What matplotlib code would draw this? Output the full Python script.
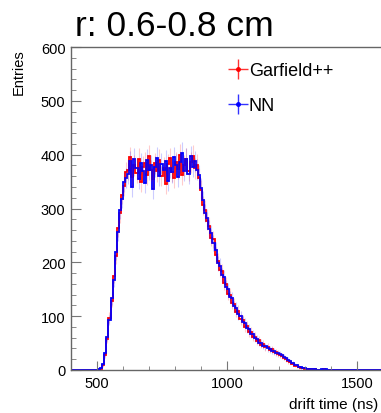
import matplotlib
matplotlib.use("Agg")
import matplotlib.pyplot as plt
import numpy as np
from matplotlib.lines import Line2D
from matplotlib.ticker import MultipleLocator

plt.rcParams['font.family'] = ['Liberation Sans', 'DejaVu Sans']

# ---- data (8 ns bins from 400 ns) ----
bin_start = 400
bin_width = 8
n_bins = 150

garfield_counts = ([0] * 14 +
    [2, 9, 27, 58, 97, 128, 174, 212, 263, 291, 326, 341, 368,
     372, 395, 358, 380, 366, 392, 350, 378, 385, 362, 398, 371, 355, 384, 369, 390, 360,
     376, 345, 382, 393, 368, 357, 386, 374, 399, 363, 380, 392, 370, 386, 398, 375, 381,
     356, 334, 306, 298, 276, 268, 246, 243, 214, 203, 186, 183, 162, 160, 142, 140, 125,
     122, 108, 110, 94, 93, 80, 82, 70, 71, 61, 62, 54, 55, 47, 48, 42, 43, 37, 39, 34, 33,
     30, 28, 26, 23, 20, 16, 14, 11, 8, 7, 5, 4, 3, 2, 2, 1, 1, 0, 1, 0, 0, 0, 1])
nn_counts = ([0] * 13 +
    [1, 3, 11, 31, 62, 93, 133, 168, 219, 256, 298, 318, 350, 357,
     365, 388, 340, 392, 375, 355, 384, 369, 347, 390, 372, 380, 336, 378, 394, 360, 383,
     371, 389, 352, 376, 367, 395, 381, 358, 386, 403, 370, 392, 365, 397, 378, 388, 372,
     362, 338, 315, 292, 283, 262, 254, 236, 222, 198, 194, 176, 172, 155, 150, 136, 133,
     118, 116, 104, 100, 90, 87, 78, 76, 67, 66, 59, 57, 51, 50, 45, 44, 40, 39, 36, 35,
     32, 31, 29, 27, 24, 22, 19, 16, 13, 10, 9, 6, 5, 4, 3, 2, 2, 1, 1, 1, 0, 0, 1, 0, 1])

garfield_counts = garfield_counts + [0] * (n_bins - len(garfield_counts))
nn_counts = nn_counts + [0] * (n_bins - len(nn_counts))

series_labels = ["Garfield++", "NN"]
title = "r: 0.6-0.8 cm"
x_label = "drift time (ns)"
y_label = "Entries"

edges = bin_start + bin_width * np.arange(n_bins + 1)
centers = 0.5 * (edges[:-1] + edges[1:])

W, H = 381, 414
fig = plt.figure(figsize=(W / 100, H / 100), dpi=100)
ax = fig.add_axes([71 / W, (H - 371) / H, 312 / W, 323 / H])

for counts, col in [(garfield_counts, '#ff0000'), (nn_counts, '#0000ff')]:
    c = np.asarray(counts, dtype=float)
    ax.errorbar(centers, c, yerr=np.sqrt(c), fmt='none', ecolor=col, elinewidth=0.8,
                alpha=0.2, capsize=0)
    ax.stairs(c, edges, color=col, linewidth=1.3)

ax.set_xlim(400, 1600)
ax.set_ylim(0, 600)
ax.xaxis.set_major_locator(MultipleLocator(500))
ax.xaxis.set_minor_locator(MultipleLocator(100))
ax.yaxis.set_major_locator(MultipleLocator(100))
ax.yaxis.set_minor_locator(MultipleLocator(20))
ax.tick_params(which='both', direction='in', colors='#777777', labelcolor='black',
               labelsize=10.5, top=False, right=False)
ax.tick_params(axis='x', which='major', length=6.5, pad=4)
ax.tick_params(axis='x', which='minor', length=3.2)
ax.tick_params(axis='y', which='major', length=7, pad=4)
ax.tick_params(axis='y', which='minor', length=3.6)
for s in ax.spines.values():
    s.set_color('#666666')
    s.set_linewidth(1.0)

handles = []
for col in ['#ff0000', '#0000ff']:
    h1 = Line2D([], [], color=col, marker='+', markersize=14, markeredgewidth=1.0,
                linestyle='none', alpha=0.8)
    h2 = Line2D([], [], color=col, marker='o', markersize=2.5, linestyle='none')
    handles.append((h1, h2))
ax.legend(handles, series_labels, loc='upper left',
          bbox_to_anchor=((229 - 71) / 312, 1 - 15 / 323),
          frameon=False, fontsize=13, handlelength=1.0, handletextpad=0.1,
          labelspacing=1.0, borderpad=0, borderaxespad=0)

fig.text(75 / W, 1 - 36 / H, title, fontsize=25.5, ha='left', va='baseline')
fig.text(19 / W, 1 - 49 / H, y_label, rotation=90, fontsize=10.5, ha='center', va='top')
fig.text(378 / W, 1 - 405 / H, x_label, fontsize=11, ha='right', va='center')

fig.savefig("out.png", dpi=100)
